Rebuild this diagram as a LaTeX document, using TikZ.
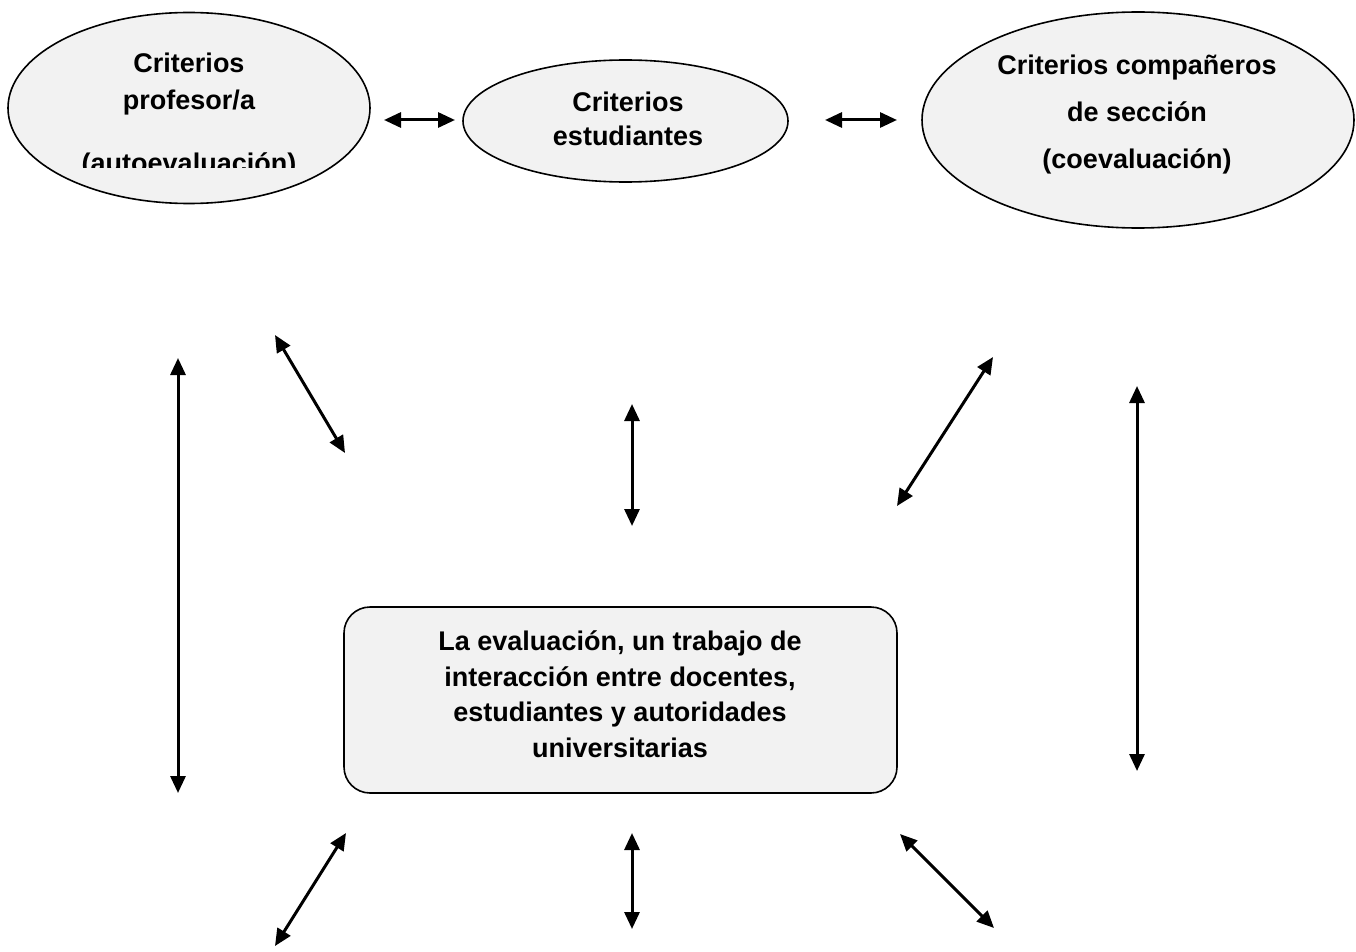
\documentclass[tikz,border=0pt]{standalone}
\usepackage{fontspec}
\setmainfont{Liberation Sans}
\usetikzlibrary{shapes.geometric,arrows.meta}
\definecolor{fillgrey}{HTML}{F2F2F2}
\begin{document}
\begin{tikzpicture}[x=1pt,y=-1pt,
  ell/.style={draw=black,line width=1.6pt,fill=fillgrey,ellipse,inner sep=0pt},
  boxst/.style={draw=black,line width=1.6pt,fill=fillgrey,rounded corners=26pt,inner sep=0pt},
  lbl/.style={font=\fontsize{27}{30}\selectfont\bfseries,anchor=base,inner sep=0pt},
  dbl/.style={line width=3pt,{Triangle[length=17pt,width=15pt]}-{Triangle[length=17pt,width=15pt]}}]
\useasboundingbox (0,0) rectangle (1356,952);
% ellipses
\node[ell,minimum width=362pt,minimum height=191pt] (e1) at (189,108) {};
\node[ell,minimum width=325pt,minimum height=122pt] (e2) at (625.5,121) {};
\node[ell,minimum width=432pt,minimum height=216pt] (e3) at (1138,120) {};
% box
\node[boxst,minimum width=553pt,minimum height=186pt] (box) at (620.5,700) {};
% texts
\node[lbl] (t11) at (189,73) {Criterios};
\node[lbl] (t12) at (189,110) {profesor/a};
\begin{scope}
\clip (0,0) rectangle (1356,168);
\node[lbl] (t13) at (189,172) {(autoevaluación)};
\end{scope}
\node[lbl] (t21) at (628,112) {Criterios};
\node[lbl] (t22) at (628,146) {estudiantes};
\node[lbl] (t31) at (1137,75) {Criterios compañeros};
\node[lbl] (t32) at (1137,122) {de sección};
\node[lbl] (t33) at (1137,168) {(coevaluación)};
\node[lbl] (b1) at (620,650) {La evaluación, un trabajo de};
\node[lbl] (b2) at (620,686) {interacción entre docentes,};
\node[lbl] (b3) at (620,721) {estudiantes y autoridades};
\node[lbl] (b4) at (620,757) {universitarias};
% arrow endpoints
\coordinate (h1a) at (384,120); \coordinate (h1b) at (455,120);
\coordinate (h2a) at (825,120); \coordinate (h2b) at (897,120);
\coordinate (aA) at (275,335); \coordinate (aB) at (345,453);
\coordinate (bA) at (178,358); \coordinate (bB) at (178,793);
\coordinate (cA) at (632,404); \coordinate (cB) at (632,526);
\coordinate (dA) at (993,357); \coordinate (dB) at (897,506);
\coordinate (eA) at (1137,386); \coordinate (eB) at (1137,771);
\coordinate (fA) at (346,833); \coordinate (fB) at (275,946);
\coordinate (gA) at (632,833); \coordinate (gB) at (632,929);
\coordinate (kA) at (900,834); \coordinate (kB) at (994,928);
\draw[dbl] (h1a) -- (h1b);
\draw[dbl] (h2a) -- (h2b);
\draw[dbl] (aA) -- (aB);
\draw[dbl] (bA) -- (bB);
\draw[dbl] (cA) -- (cB);
\draw[dbl] (dA) -- (dB);
\draw[dbl] (eA) -- (eB);
\draw[dbl] (fA) -- (fB);
\draw[dbl] (gA) -- (gB);
\draw[dbl] (kA) -- (kB);
\end{tikzpicture}
\end{document}
